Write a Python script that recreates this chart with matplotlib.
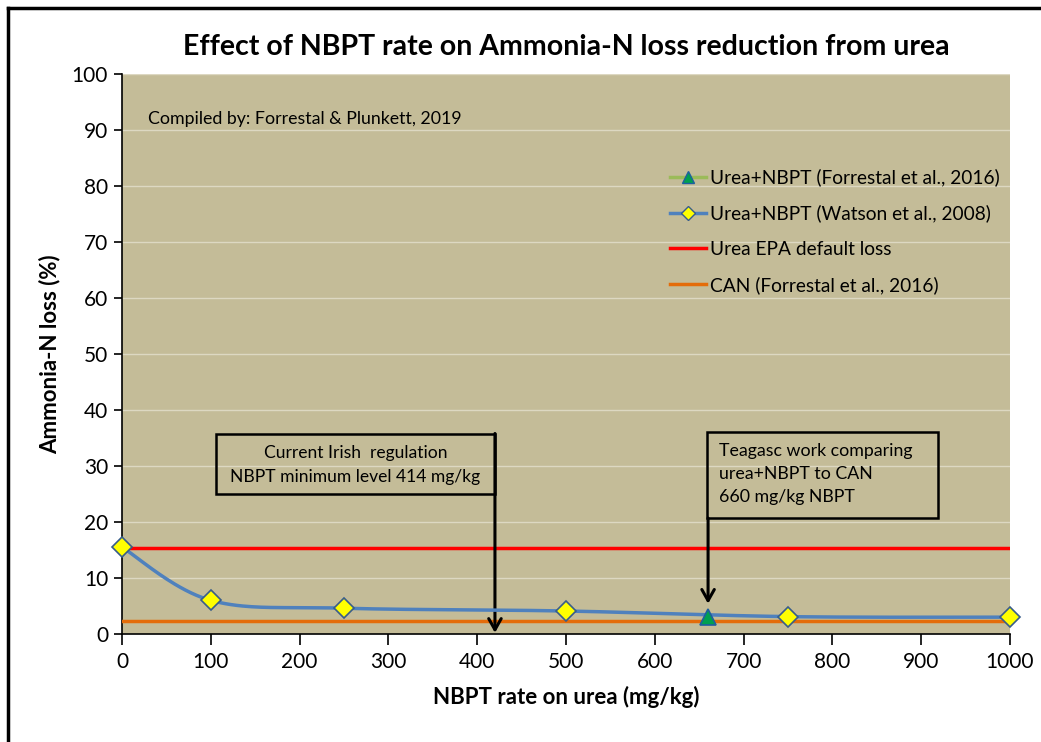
import numpy as np
import matplotlib.pyplot as plt
from matplotlib.patches import Rectangle

plt.rcParams['font.family'] = ['Lato', 'DejaVu Sans']

watson_rate = [0, 100, 250, 500, 750, 1000]
watson_loss = [15.5, 6.0, 4.6, 4.1, 3.1, 3.0]
forrestal_rate = [660]
forrestal_loss = [3.0]
epa_loss = 15.4
can_loss = 2.3
x_ticks = list(range(0, 1001, 100))
y_ticks = list(range(0, 101, 10))

BG = '#c4bc98'


def smooth(xs, ys, n=40):
    # catmull-rom, like the "smoothed line" option in a spreadsheet chart
    p = np.column_stack([xs, ys]).astype(float)
    p = np.vstack([p[0], p, p[-1]])
    out = []
    for i in range(1, len(p) - 2):
        p0, p1, p2, p3 = p[i - 1], p[i], p[i + 1], p[i + 2]
        t = np.linspace(0, 1, n)[:, None]
        seg = 0.5 * (2 * p1 + (-p0 + p2) * t + (2 * p0 - 5 * p1 + 4 * p2 - p3) * t ** 2
                     + (-p0 + 3 * p1 - 3 * p2 + p3) * t ** 3)
        out.append(seg)
    out = np.vstack(out)
    return out[:, 0], out[:, 1]


fig = plt.figure(figsize=[10.41, 7.42], dpi=100)
ax = fig.add_axes([0.1172, 0.1456, 0.853, 0.7547])
ax.set_facecolor(BG)
ax.set_xlim(0, 1000)
ax.set_ylim(0, 100)
ax.set_xticks(x_ticks)
ax.set_yticks(y_ticks)
ax.grid(axis='y', color='#ddd8c2', linewidth=1)
ax.set_axisbelow(True)
for s in ['top', 'right']:
    ax.spines[s].set_visible(False)
ax.spines['left'].set_linewidth(1.2)
ax.spines['bottom'].set_linewidth(1.2)
ax.tick_params(axis='x', direction='out', length=8, width=1.2, labelsize=15, pad=5)
ax.tick_params(axis='y', direction='out', length=6, width=1.2, labelsize=15, pad=4)

ax.plot([0, 1000], [epa_loss, epa_loss], color='#ff0000', linewidth=2.5, zorder=3)
ax.plot([0, 1000], [can_loss, can_loss], color='#e46c0a', linewidth=2.5, zorder=3)
sx, sy = smooth(watson_rate, watson_loss)
ax.plot(sx, sy, color='#4f81bd', linewidth=2.5, zorder=4)
ax.plot(watson_rate, watson_loss, linestyle='none', marker='D', markersize=10,
        markerfacecolor='#ffff00', markeredgecolor='#385d8a', markeredgewidth=1.2,
        zorder=5, clip_on=False)
ax.plot(forrestal_rate, forrestal_loss, linestyle='none', marker='^', markersize=11,
        markerfacecolor='#00a050', markeredgecolor='#1f5f9f', markeredgewidth=1.2,
        zorder=5)

# legend proxies
h1, = ax.plot([], [], color='#9bbb59', linewidth=2.5, marker='^', markersize=9,
              markerfacecolor='#00a050', markeredgecolor='#1f5f9f')
h2, = ax.plot([], [], color='#4f81bd', linewidth=2.5, marker='D', markersize=7,
              markerfacecolor='#ffff00', markeredgecolor='#385d8a')
h3, = ax.plot([], [], color='#ff0000', linewidth=2.5)
h4, = ax.plot([], [], color='#e46c0a', linewidth=2.5)
ax.legend([h1, h2, h3, h4],
          ['Urea+NBPT (Forrestal et al., 2016)', 'Urea+NBPT (Watson et al., 2008)',
           'Urea EPA default loss', 'CAN (Forrestal et al., 2016)'],
          loc='upper right', bbox_to_anchor=(0.997, 0.845), frameon=False, fontsize=13.8,
          handlelength=1.9, handletextpad=0.2, labelspacing=0.95, borderaxespad=0)

ax.text(29, 92, 'Compiled by: Forrestal & Plunkett, 2019', fontsize=12.8, va='center')

# annotation boxes
ax.add_patch(Rectangle((106, 25.0), 314, 10.7, facecolor='none', edgecolor='black',
                       linewidth=1.8, zorder=6))
ax.text(263, 32.3, 'Current Irish  regulation', fontsize=12.6, ha='center', va='center')
ax.text(263, 28.0, 'NBPT minimum level 414 mg/kg', fontsize=12.6, ha='center', va='center')
ax.annotate('', xy=(420, 0.2), xytext=(420, 35.8),
            arrowprops=dict(arrowstyle='->,head_length=0.8,head_width=0.45',
                            color='black', linewidth=2.2, shrinkA=0, shrinkB=0))

ax.add_patch(Rectangle((659, 20.7), 260, 15.4, facecolor='none', edgecolor='black',
                       linewidth=1.8, zorder=6))
ax.text(672, 32.7, 'Teagasc work comparing', fontsize=12.8, va='center')
ax.text(672, 28.6, 'urea+NBPT to CAN', fontsize=12.8, va='center')
ax.text(672, 24.5, '660 mg/kg NBPT', fontsize=12.8, va='center')
ax.annotate('', xy=(660, 5.4), xytext=(660, 20.7),
            arrowprops=dict(arrowstyle='->,head_length=0.8,head_width=0.45',
                            color='black', linewidth=2.2, shrinkA=0, shrinkB=0))

ax.set_title('Effect of NBPT rate on Ammonia-N loss reduction from urea',
             fontsize=20.5, fontweight='bold', pad=14)
ax.set_ylabel('Ammonia-N loss (%)', fontsize=16, fontweight='bold', labelpad=8)
ax.set_xlabel('NBPT rate on urea (mg/kg)', fontsize=16, fontweight='bold', labelpad=10)

# chart frame
fig.add_artist(plt.Line2D([8 / 1041, 8 / 1041], [0, 734 / 742], color='black', linewidth=2.5))
fig.add_artist(plt.Line2D([8 / 1041, 1], [734 / 742, 734 / 742], color='black', linewidth=2.5))

fig.savefig('out.png', dpi=100)
